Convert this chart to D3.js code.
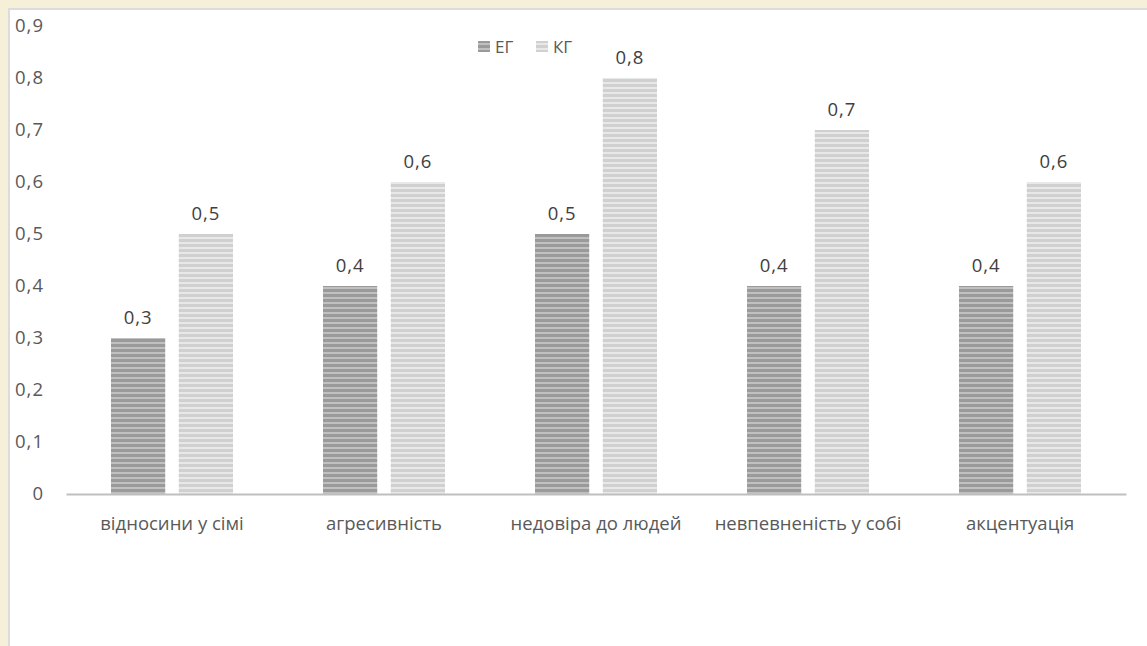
<!DOCTYPE html>
<meta charset="utf-8">
<style>
  body { margin: 0; background: #f6f0d9; }
  /* chart sits on a white panel inside a cream frame */
  .panel { position: absolute; left: 8px; top: 8px; width: 1139px; height: 638px;
    background: #fff; border-left: 2px solid #dcdcdc; border-top: 2px solid #dcdcdc; box-sizing: border-box; }
  svg { position: absolute; left: 0; top: 0; font-family: "Open Sans", sans-serif; }
  .tick text { fill: #595959; font-size: 18.5px; }
  .ylab .tick text { letter-spacing: 1px; }
  .val { fill: #404040; font-size: 18.5px; letter-spacing: 1px; text-anchor: middle; }
</style>

<body>
  <div class="panel"></div>
  <script src="https://d3js.org/d3.v7.min.js"></script>
  <script>

    // data
    var categories = ["відносини у сімі", "агресивність", "недовіра до людей", "невпевненість у собі", "акцентуація"];
    var seriesNames = ["ЕГ", "КГ"];
    var eg = [0.3, 0.4, 0.5, 0.4, 0.4];
    var kg = [0.5, 0.6, 0.8, 0.7, 0.6];
    var yTicks = [0, 0.1, 0.2, 0.3, 0.4, 0.5, 0.6, 0.7, 0.8, 0.9];

    var W = 1147, H = 646;
    var plotLeft = 66, plotRight = 1126, plotTop = 26, plotBottom = 494;

    var svg = d3.select("body").append("svg")
      .attr("width", W)
      .attr("height", H);

    // striped fills for the two series
    var defs = svg.append("defs");
    var fills = [
      { id: "pEG", base: "#9a9a9a", line: "#c0c0c0" },
      { id: "pKG", base: "#d0d0d0", line: "#e8e8e8" }
    ];
    fills.forEach(function (f) {
      var p = defs.append("pattern")
        .attr("id", f.id)
        .attr("patternUnits", "userSpaceOnUse")
        .attr("width", 8).attr("height", 5);
      p.append("rect").attr("width", 8).attr("height", 5).attr("fill", f.base);
      p.append("rect").attr("y", 2).attr("width", 8).attr("height", 2).attr("fill", f.line);
    });

    var x0 = d3.scaleBand()
      .domain(categories)
      .range([plotLeft, plotRight])
      .paddingInner(0)
      .paddingOuter(0);

    var x1 = d3.scaleBand()
      .domain(seriesNames)
      .range([45, x0.bandwidth() - 45])
      .paddingInner(0.2);

    var y = d3.scaleLinear()
      .domain([0, 0.9])
      .range([plotBottom, plotTop]);

    var fmt = function (d) { return String(d).replace(".", ","); };

    // y axis labels (no line, no ticks)
    var yAxis = svg.append("g")
      .attr("class", "ylab")
      .attr("transform", "translate(44,0)")
      .call(d3.axisLeft(y).tickValues(yTicks).tickFormat(fmt).tickSize(0).tickPadding(0))
      .attr("font-family", null).attr("font-size", null);
    yAxis.select(".domain").remove();

    var rows = categories.map(function (c, i) {
      return { cat: c, vals: [{ s: "ЕГ", v: eg[i] }, { s: "КГ", v: kg[i] }] };
    });

    var groups = svg.selectAll(".grp")
      .data(rows)
      .enter().append("g")
      .attr("class", "grp")
      .attr("transform", function (d) { return "translate(" + x0(d.cat) + ",0)"; });

    groups.selectAll("rect")
      .data(function (d) { return d.vals; })
      .enter().append("rect")
      .attr("x", function (d) { return x1(d.s); })
      .attr("width", x1.bandwidth())
      .attr("y", function (d) { return y(d.v); })
      .attr("height", function (d) { return plotBottom - y(d.v); })
      .attr("fill", function (d) { return d.s === "ЕГ" ? "url(#pEG)" : "url(#pKG)"; });

    groups.selectAll(".val")
      .data(function (d) { return d.vals; })
      .enter().append("text")
      .attr("class", "val")
      .attr("x", function (d) { return x1(d.s) + x1.bandwidth() / 2; })
      .attr("y", function (d) { return y(d.v) - 14; })
      .text(function (d) { return fmt(d.v); });

    // x axis
    var xAxis = svg.append("g")
      .attr("transform", "translate(0," + plotBottom + ")")
      .call(d3.axisBottom(x0).tickSize(0).tickPadding(19))
      .attr("font-family", null).attr("font-size", null);
    xAxis.select(".domain").attr("stroke", "#bfbfbf").attr("stroke-width", 2);
    xAxis.selectAll("text").attr("dy", "0.9em");

    // legend
    var legend = svg.append("g").attr("transform", "translate(478,41)");
    var lx = [0, 58];
    seriesNames.forEach(function (s, i) {
      legend.append("rect")
        .attr("x", lx[i]).attr("y", 0)
        .attr("width", 12).attr("height", 11)
        .attr("fill", i === 0 ? "url(#pEG)" : "url(#pKG)");
      legend.append("text")
        .attr("x", lx[i] + 17).attr("y", 12)
        .attr("fill", "#595959")
        .style("font-size", "17px")
        .text(s);
    });

  </script>
</body>
